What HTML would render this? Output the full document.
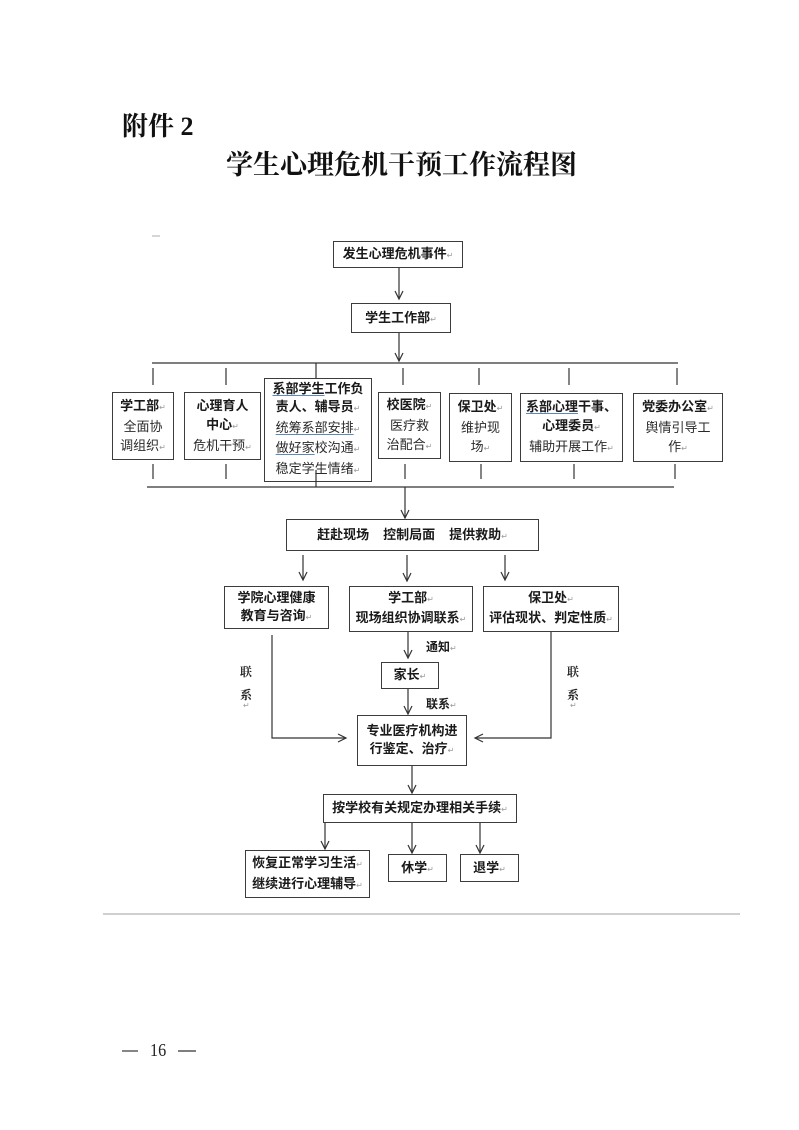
<!DOCTYPE html>
<html><head><meta charset="utf-8">
<style>
html,body{margin:0;padding:0;background:#fff;}
body{width:799px;height:1130px;position:relative;overflow:hidden;font-family:"Liberation Sans","Noto Sans CJK SC",sans-serif;color:#222;}
.b{position:absolute;box-sizing:border-box;border:1.6px solid #3c3c3c;background:#fff;display:flex;flex-direction:column;justify-content:center;align-items:center;font-size:13px;line-height:19px;text-align:center;white-space:nowrap;}
.b div{white-space:nowrap;}
.bd{font-weight:700;color:#1a1a1a;}
.rg{font-weight:400;color:#2a2a2a;}
.r{font-family:"DejaVu Sans",sans-serif;font-size:8px;color:#9a9a9a;font-weight:400;}
.u{text-decoration:underline;text-decoration-color:#5f86c0;text-underline-offset:2px;}
.t{position:absolute;white-space:nowrap;}
svg{position:absolute;left:0;top:0;}
</style></head><body>

<div class="t" style="left:122px;top:114px;font-family:'Liberation Serif','Noto Serif CJK SC',serif;font-weight:700;font-size:26px;line-height:26px;color:#111;">附件 2</div>
<div class="t" style="left:226px;top:151px;font-family:'Liberation Serif','Noto Serif CJK SC',serif;font-weight:700;font-size:27px;line-height:28px;color:#111;">学生心理危机干预工作流程图</div>

<svg width="799" height="1130" viewBox="0 0 799 1130">
<g stroke="#333" stroke-width="1.2" fill="none">
<line x1="152" y1="236" x2="160" y2="236" stroke="#bbb"/>
<line x1="399" y1="268" x2="399" y2="299"/><polyline points="395,291 399,299 403,291"/>
<line x1="399" y1="333" x2="399" y2="361"/><polyline points="395,353 399,361 403,353"/>
<line x1="152" y1="363" x2="678" y2="363"/>
<line x1="153" y1="368" x2="153" y2="385"/>
<line x1="226" y1="368" x2="226" y2="385"/>
<line x1="316" y1="363" x2="316" y2="378"/>
<line x1="403" y1="368" x2="403" y2="385"/>
<line x1="479" y1="368" x2="479" y2="385"/>
<line x1="569" y1="368" x2="569" y2="385"/>
<line x1="677" y1="368" x2="677" y2="385"/>
<line x1="153" y1="464" x2="153" y2="479"/>
<line x1="226" y1="464" x2="226" y2="479"/>
<line x1="405" y1="464" x2="405" y2="479"/>
<line x1="481" y1="464" x2="481" y2="479"/>
<line x1="574" y1="464" x2="574" y2="479"/>
<line x1="675" y1="464" x2="675" y2="479"/>
<line x1="147" y1="487" x2="674" y2="487"/>
<line x1="405" y1="487" x2="405" y2="518"/><polyline points="401,510 405,518 409,510"/>
<line x1="303" y1="555" x2="303" y2="580"/><polyline points="299,572 303,580 307,572"/>
<line x1="407" y1="555" x2="407" y2="581"/><polyline points="403,573 407,581 411,573"/>
<line x1="505" y1="555" x2="505" y2="580"/><polyline points="501,572 505,580 509,572"/>
<line x1="408" y1="632" x2="408" y2="658"/><polyline points="404,650 408,658 412,650"/>
<line x1="408" y1="689" x2="408" y2="714"/><polyline points="404,706 408,714 412,706"/>
<polyline points="272,635 272,738 346,738"/><polyline points="338,734 346,738 338,742"/>
<polyline points="551,632 551,738 475,738"/><polyline points="483,734 475,738 483,742"/>
<line x1="412" y1="766" x2="412" y2="793"/><polyline points="408,785 412,793 416,785"/>
<line x1="325" y1="823" x2="325" y2="849"/><polyline points="321,841 325,849 329,841"/>
<line x1="412" y1="823" x2="412" y2="853"/><polyline points="408,845 412,853 416,845"/>
<line x1="480" y1="823" x2="480" y2="853"/><polyline points="476,845 480,853 484,845"/>
<line x1="103" y1="914" x2="740" y2="914" stroke="#cfcfcf" stroke-width="2"/>
<line x1="122" y1="1051" x2="138" y2="1051" stroke-width="1.2"/>
<line x1="178" y1="1051" x2="196" y2="1051" stroke-width="1.2"/>
</g>
</svg>

<div class="b bd" style="left:333px;top:241px;width:130px;height:27px;"><div>发生心理危机事件<span class="r">↵</span></div></div>
<div class="b bd" style="left:351px;top:303px;width:100px;height:30px;"><div>学生工作部<span class="r">↵</span></div></div>

<div class="b" style="left:112px;top:392px;width:62px;height:68px;"><div class="bd">学工部<span class="r">↵</span></div><div class="rg">全面协</div><div class="rg">调组织<span class="r">↵</span></div></div>
<div class="b" style="left:184px;top:392px;width:77px;height:68px;"><div class="bd">心理育人</div><div class="bd">中心<span class="r">↵</span></div><div class="rg">危机干预<span class="r">↵</span></div></div>
<div class="b" style="left:264px;top:378px;width:108px;height:104px;line-height:18.5px;"><div class="bd"><span class="u">系部学生</span>工作负</div><div class="bd">责人、辅导员<span class="r">↵</span></div><div class="rg"><span class="u">统筹系部安排</span><span class="r">↵</span></div><div class="rg"><span class="u">做好家</span>校沟通<span class="r">↵</span></div><div class="rg">稳定学生情绪<span class="r">↵</span></div></div>
<div class="b" style="left:378px;top:392px;width:63px;height:67px;"><div class="bd">校医院<span class="r">↵</span></div><div class="rg">医疗救</div><div class="rg">治配合<span class="r">↵</span></div></div>
<div class="b" style="left:449px;top:393px;width:63px;height:69px;"><div class="bd">保卫处<span class="r">↵</span></div><div class="rg">维护现</div><div class="rg">场<span class="r">↵</span></div></div>
<div class="b" style="left:520px;top:393px;width:103px;height:69px;"><div class="bd"><span class="u">系部心理</span>干事、</div><div class="bd">心理委员<span class="r">↵</span></div><div class="rg">辅助开展工作<span class="r">↵</span></div></div>
<div class="b" style="left:633px;top:393px;width:90px;height:69px;"><div class="bd">党委办公室<span class="r">↵</span></div><div class="rg">舆情引导工</div><div class="rg">作<span class="r">↵</span></div></div>

<svg width="799" height="1130" viewBox="0 0 799 1130" style="pointer-events:none"><line x1="316" y1="470" x2="316" y2="487" stroke="#333" stroke-width="1.2"/></svg>

<div class="b bd" style="left:286px;top:519px;width:253px;height:32px;"><div>赶赴现场<span style="display:inline-block;width:14px"></span>控制局面<span style="display:inline-block;width:14px"></span>提供救助<span class="r">↵</span></div></div>

<div class="b bd" style="left:224px;top:586px;width:105px;height:43px;line-height:18px;"><div>学院心理健康</div><div>教育与咨询<span class="r">↵</span></div></div>
<div class="b bd" style="left:349px;top:586px;width:124px;height:46px;line-height:18px;"><div>学工部<span class="r">↵</span></div><div>现场组织协调联系<span class="r">↵</span></div></div>
<div class="b bd" style="left:483px;top:586px;width:136px;height:46px;line-height:18px;"><div>保卫处<span class="r">↵</span></div><div>评估现状、判定性质<span class="r">↵</span></div></div>

<div class="t bd" style="left:426px;top:639px;font-size:12px;line-height:16px;">通知<span class="r">↵</span></div>
<div class="b bd" style="left:381px;top:662px;width:58px;height:27px;"><div>家长<span class="r">↵</span></div></div>
<div class="t bd" style="left:426px;top:696px;font-size:12px;line-height:16px;">联系<span class="r">↵</span></div>

<div class="t" style="left:240px;top:664px;font-family:'Noto Serif CJK SC',serif;font-weight:700;font-size:12px;line-height:16px;">联</div>
<div class="t" style="left:240px;top:687px;font-family:'Noto Serif CJK SC',serif;font-weight:700;font-size:12px;line-height:16px;">系</div>
<div class="t r" style="left:243px;top:701px;">↵</div>
<div class="t" style="left:567px;top:664px;font-family:'Noto Serif CJK SC',serif;font-weight:700;font-size:12px;line-height:16px;">联</div>
<div class="t" style="left:567px;top:687px;font-family:'Noto Serif CJK SC',serif;font-weight:700;font-size:12px;line-height:16px;">系</div>
<div class="t r" style="left:570px;top:701px;">↵</div>

<div class="b bd" style="left:357px;top:715px;width:110px;height:51px;line-height:18px;"><div>专业医疗机构进</div><div>行鉴定、治疗<span class="r">↵</span></div></div>

<div class="b bd" style="left:323px;top:794px;width:194px;height:29px;"><div>按学校有关规定办理相关手续<span class="r">↵</span></div></div>

<div class="b bd" style="left:245px;top:850px;width:125px;height:48px;line-height:19px;"><div>恢复正常学习生活<span class="r">↵</span></div><div>继续进行心理辅导<span class="r">↵</span></div></div>
<div class="b bd" style="left:388px;top:854px;width:59px;height:28px;"><div>休学<span class="r">↵</span></div></div>
<div class="b bd" style="left:460px;top:854px;width:59px;height:28px;"><div>退学<span class="r">↵</span></div></div>

<div class="t" style="left:150px;top:1039px;font-family:'Liberation Serif',serif;font-size:18px;line-height:22px;color:#222;transform:scaleX(0.9);transform-origin:left;">16</div>

</body></html>
